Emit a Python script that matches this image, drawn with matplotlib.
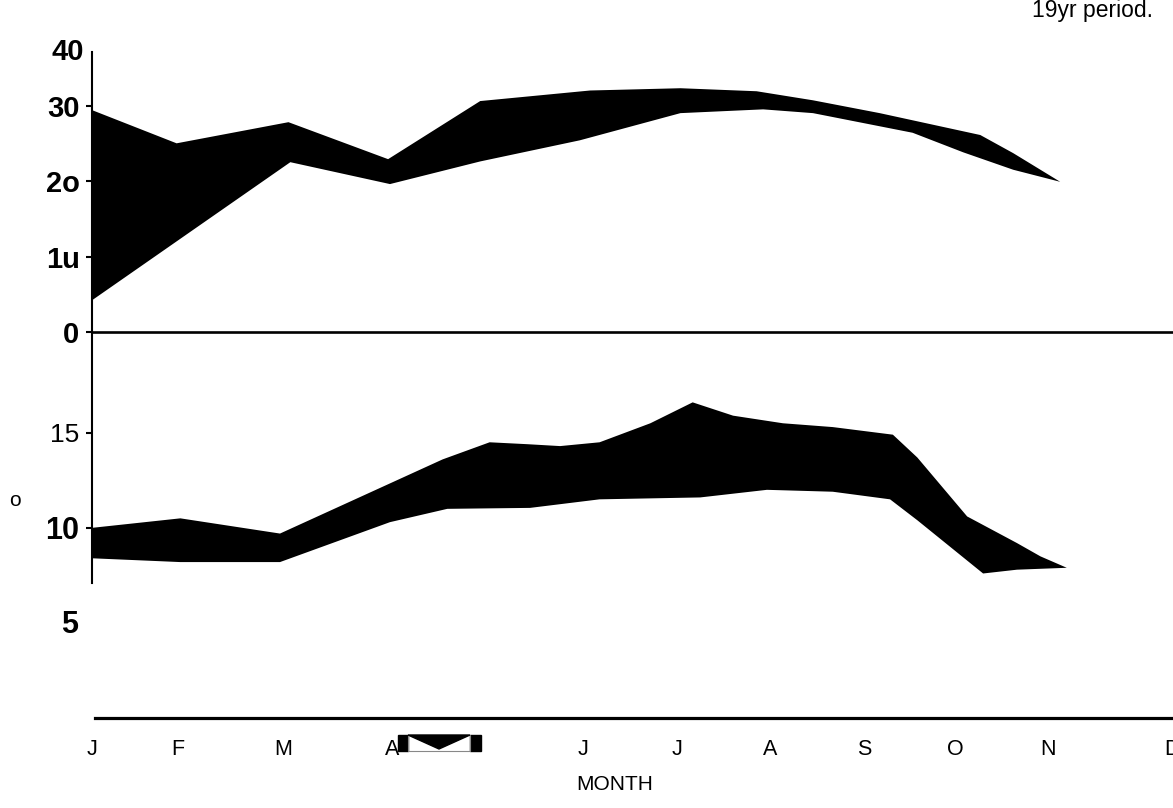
import matplotlib
matplotlib.use("Agg")
import matplotlib.pyplot as plt
from matplotlib import font_manager
from matplotlib.patches import Rectangle, Polygon

# ---------------- data (x in months from January, y in degrees) ----------------
top_upper_x = [0.0, 0.9, 2.09, 3.15, 4.13, 5.3, 6.26, 7.07, 7.67, 8.38, 9.45, 9.8, 10.3]
top_upper_y = [29.4, 25.0, 27.8, 22.9, 30.6, 32.0, 32.3, 31.9, 30.7, 29.0, 26.1, 23.7, 19.9]
top_lower_x = [0.0, 2.11, 3.17, 4.13, 5.19, 6.26, 7.14, 7.67, 8.73, 9.27, 9.8, 10.3]
top_lower_y = [4.2, 22.5, 19.6, 22.6, 25.4, 29.0, 29.5, 29.0, 26.4, 23.8, 21.5, 19.9]

bot_upper_x = [0.0, 0.94, 2.0, 3.73, 4.23, 4.63, 4.98, 5.4, 5.94, 6.39, 6.82, 7.35,
               7.88, 8.52, 8.78, 9.31, 9.84, 10.09, 10.37]
bot_upper_y = [10.0, 10.5, 9.7, 13.6, 14.5, 14.4, 14.3, 14.5, 15.5, 16.6, 15.9, 15.5,
               15.3, 14.9, 13.7, 10.6, 9.2, 8.5, 7.9]
bot_lower_x = [0.0, 0.94, 2.0, 3.17, 3.78, 4.66, 5.4, 6.47, 7.18, 7.88, 8.49, 8.78,
               9.48, 9.84, 10.37]
bot_lower_y = [8.4, 8.2, 8.2, 10.3, 11.0, 11.05, 11.5, 11.6, 12.0, 11.9, 11.5, 10.4,
               7.6, 7.8, 7.9]

month_labels = ["J", "F", "M", "A", "J", "J", "A", "S", "O", "N", "D"]
month_ticks = [0.0, 0.915, 2.03, 3.19, 5.22, 6.22, 7.21, 8.22, 9.18, 10.17, 11.49]

top_ticks = [0, 10, 20, 30]
top_tick_labels = ["0", "1u", "2o", "30"]
bot_ticks = [10, 15]
bot_tick_labels = ["10", "15"]

# ---------------- fonts ----------------
names = {f.name for f in font_manager.fontManager.ttflist}
NARROW = "Liberation Sans Narrow" if "Liberation Sans Narrow" in names else "Liberation Sans"
SANS = "Liberation Sans"

W, H = 1173, 808
fig = plt.figure(figsize=(W / 100, H / 100), dpi=100)

def fx(px):
    return px / W

def fy(py):
    return 1 - py / H

left = fx(92)
ax_top = fig.add_axes([left, fy(332), 1 - left, fy(52) - fy(332)])
ax_bot = fig.add_axes([left, fy(718), 1 - left, fy(332) - fy(718)])

for ax in (ax_top, ax_bot):
    ax.set_xlim(0, 11.5)
    ax.spines["top"].set_visible(False)
    ax.spines["right"].set_visible(False)
    ax.patch.set_alpha(0)

# top band
ax_top.fill(top_upper_x + top_lower_x[::-1], top_upper_y + top_lower_y[::-1],
            color="black", lw=0)
ax_top.set_ylim(0, 37.1)
ax_top.set_xticks([])
ax_top.spines["bottom"].set_linewidth(1.9)
ax_top.spines["left"].set_linewidth(1.5)
ax_top.set_yticks(top_ticks)
ax_top.set_yticklabels(top_tick_labels, fontsize=21, fontweight="bold", family=NARROW)
ax_top.tick_params(axis="y", length=4, width=1.5, pad=5)

# bottom band
ax_bot.fill(bot_upper_x + bot_lower_x[::-1], bot_upper_y + bot_lower_y[::-1],
            color="black", lw=0)
ax_bot.set_ylim(0, 20.3)
ax_bot.spines["left"].set_linewidth(1.5)
ax_bot.spines["left"].set_bounds(7.1, 20.3)
ax_bot.spines["bottom"].set_linewidth(2.3)
ax_bot.spines["bottom"].set_bounds(0.03, 11.5)
ax_bot.set_yticks(bot_ticks)
ax_bot.set_yticklabels(bot_tick_labels, family=NARROW)
for lab, fs, fw in zip(ax_bot.get_yticklabels(), [22, 19], ["bold", "normal"]):
    lab.set_fontsize(fs)
    lab.set_fontweight(fw)
ax_bot.tick_params(axis="y", length=4, width=1.5, pad=5)
ax_bot.set_xticks(month_ticks)
ax_bot.set_xticklabels(month_labels, fontsize=15.5, family=NARROW)
ax_bot.tick_params(axis="x", length=0, pad=15)

# extra labels
fig.text(fx(68), fy(52), "40", fontsize=21, fontweight="bold", family=NARROW,
         ha="center", va="center")
fig.text(fx(70), fy(625), "5", fontsize=22, fontweight="bold", family=NARROW,
         ha="center", va="center")
fig.text(fx(15), fy(500), "o", fontsize=15, family=SANS, ha="center", va="center")
fig.text(fx(615), fy(785), "MONTH", fontsize=15, family=NARROW,
         ha="center", va="center")
fig.text(fx(1093), fy(17), "19yr period.", fontsize=16.5, family=SANS,
         ha="center", va="baseline")

# scanned "M" glyph artefact next to A
fig.add_artist(Rectangle((fx(398), fy(751)), fx(10), fy(735) - fy(751),
                         transform=fig.transFigure, color="black"))
fig.add_artist(Rectangle((fx(470), fy(751)), fx(11), fy(735) - fy(751),
                         transform=fig.transFigure, color="black"))
fig.add_artist(Rectangle((fx(408), fy(751)), fx(62), fy(735) - fy(751),
                         transform=fig.transFigure, fill=False, ec="#888888", lw=0.8))
fig.add_artist(Polygon([(fx(408), fy(735)), (fx(470), fy(735)), (fx(439), fy(749))],
                       closed=True, transform=fig.transFigure, color="black"))

fig.savefig("out.png", dpi=100)
